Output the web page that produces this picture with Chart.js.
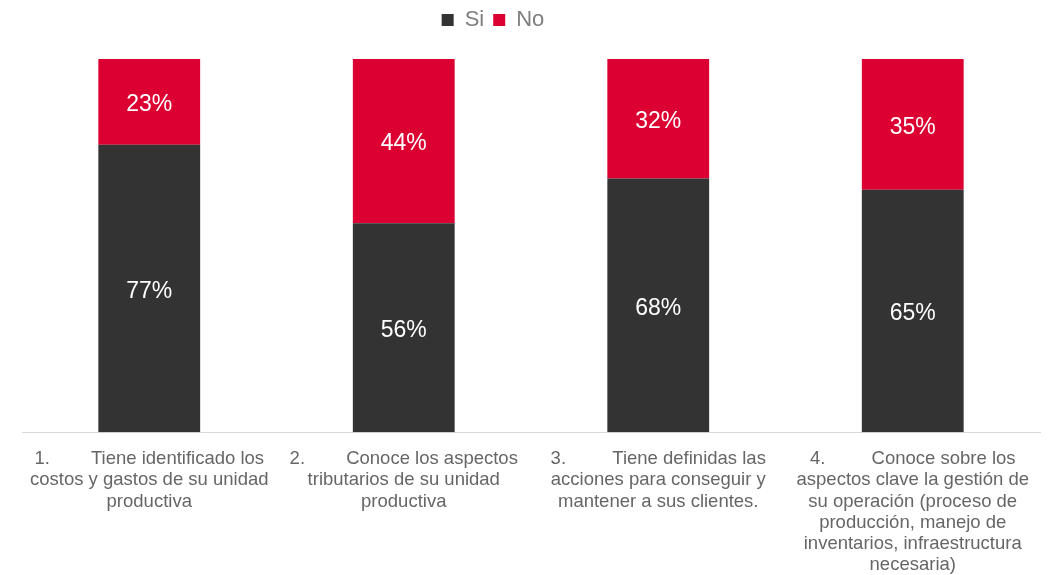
<!DOCTYPE html>
<html lang="es">
<head>
  <meta charset="UTF-8">
  <title>Si / No</title>
  <script src="https://cdn.jsdelivr.net/npm/chart.js"></script>
  <style>
    html, body { margin: 0; padding: 0; background: #fff; }
    #wrap { width: 1056px; height: 575px; position: relative; }
  </style>
</head>
<body>
<div id="wrap"><canvas id="chart"></canvas></div>
<script>
  // Categorías (cada una en varias líneas, como en el original)
  const categories = [
    ['1.        Tiene identificado los', 'costos y gastos de su unidad', 'productiva'],
    ['2.        Conoce los aspectos', 'tributarios de su unidad', 'productiva'],
    ['3.         Tiene definidas las', 'acciones para conseguir y', 'mantener a sus clientes.'],
    ['4.         Conoce sobre los', 'aspectos clave la gestión de', 'su operación (proceso de', 'producción, manejo de', 'inventarios, infraestructura', 'necesaria)']
  ];
  const siValues = [77, 56, 68, 65];
  const noValues = [23, 44, 32, 35];

  const FONT = '"Liberation Sans", Arial, sans-serif';

  // Espacio extra bajo la leyenda y leyenda algo a la izquierda
  const legendTweak = {
    id: 'legendTweak',
    beforeInit(chart) {
      const legend = chart.legend;
      const fit = legend.fit;
      legend.fit = function () {
        fit.call(legend);
        this.height += 18;
      };
      const draw = legend.draw;
      legend.draw = function () {
        const ctx = chart.ctx;
        ctx.save();
        ctx.translate(-38, 0);
        draw.call(legend);
        ctx.restore();
      };
    }
  };

  // Etiquetas de porcentaje dentro de cada segmento
  const barLabels = {
    id: 'barLabels',
    afterDatasetsDraw(chart) {
      const ctx = chart.ctx;
      ctx.save();
      ctx.fillStyle = '#ffffff';
      ctx.font = '23px ' + FONT;
      ctx.textAlign = 'center';
      ctx.textBaseline = 'middle';
      chart.data.datasets.forEach((ds, i) => {
        chart.getDatasetMeta(i).data.forEach((bar, j) => {
          ctx.fillText(ds.data[j] + '%', bar.x, (bar.y + bar.base) / 2 + 3);
        });
      });
      ctx.restore();
    }
  };

  new Chart(document.getElementById('chart'), {
    type: 'bar',
    data: {
      labels: categories,
      datasets: [
        { label: 'Si', data: siValues, backgroundColor: '#333333' },
        { label: 'No', data: noValues, backgroundColor: '#dc0032' }
      ]
    },
    options: {
      responsive: true,
      maintainAspectRatio: false,
      animation: false,
      layout: { padding: { left: 22, right: 16, top: 0, bottom: -9 } },
      categoryPercentage: 0.4,
      barPercentage: 1,
      scales: {
        x: {
          stacked: true,
          grid: { display: false },
          border: { display: true, color: '#d9d9d9', width: 1 },
          ticks: {
            color: '#666666',
            maxRotation: 0,
            autoSkip: false,
            padding: 8,
            font: { family: FONT, size: 18.5, lineHeight: 1.15 }
          }
        },
        y: {
          stacked: true,
          display: false,
          min: 0,
          max: 100
        }
      },
      plugins: {
        legend: {
          position: 'top',
          labels: {
            color: '#7f7f7f',
            boxWidth: 12,
            boxHeight: 12,
            padding: 9,
            font: { family: FONT, size: 22 }
          }
        },
        tooltip: { enabled: false }
      }
    },
    plugins: [legendTweak, barLabels]
  });
</script>
</body>
</html>
